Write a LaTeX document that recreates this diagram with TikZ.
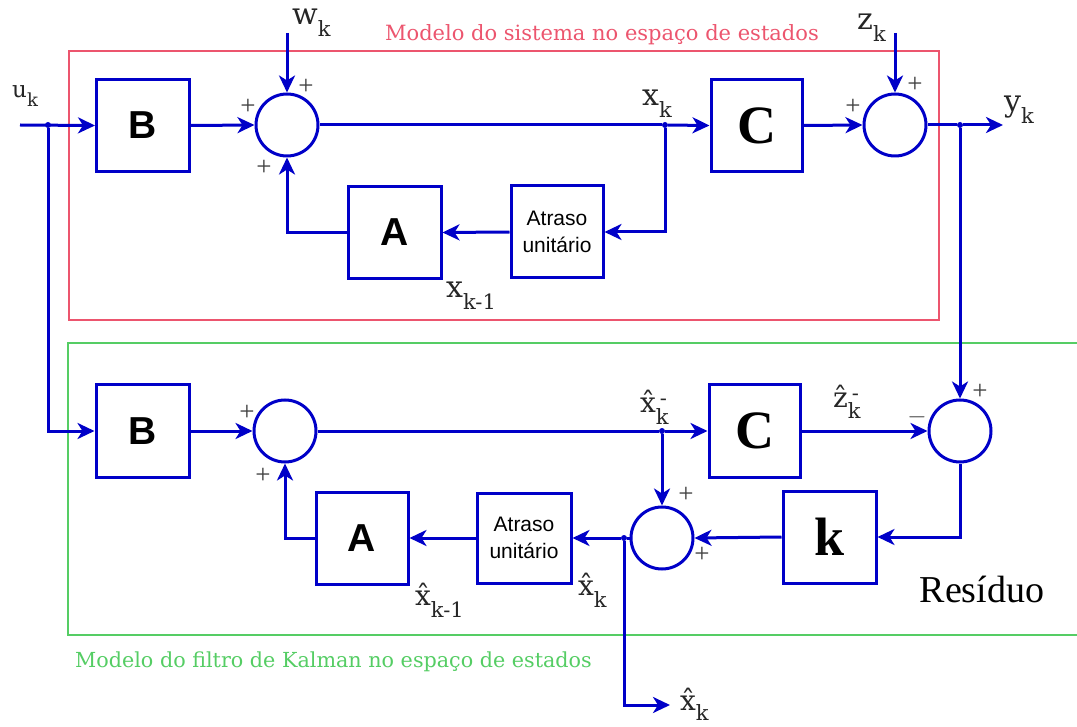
\documentclass[tikz,border=0pt]{standalone}
\usepackage{fontspec}
\setmainfont{Liberation Serif}
\newfontfamily\sfb{Liberation Sans}
\newfontfamily\vf{DejaVu Serif}
\usetikzlibrary{arrows.meta}
\definecolor{bl}{RGB}{0,0,200}
\definecolor{rd}{RGB}{236,85,110}
\definecolor{gr}{RGB}{85,205,100}
\newcommand\sbk[1]{\raisebox{-12pt}{\fontsize{21}{21}\selectfont #1}}
\newcommand\sbkm[1]{\raisebox{-12pt}{\fontsize{21}{21}\selectfont\rlap{\hspace{4pt}\raisebox{19pt}{-}}#1}}
\begin{document}
\begin{tikzpicture}[x=1pt,y=-1pt,
 blk/.style={draw=bl, line width=3pt, minimum width=93pt, minimum height=92pt, inner sep=0pt},
 sbox/.style={blk, font=\sfb\bfseries\fontsize{39}{39}\selectfont},
 rbox/.style={blk, font=\bfseries\fontsize{54}{54}\selectfont},
 dbox/.style={blk, font=\sfb\fontsize{21}{27}\selectfont, align=center},
 sumc/.style={draw=bl, line width=3pt, circle, minimum size=62pt, inner sep=0pt},
 sig/.style={draw=bl, line width=3pt, -{Stealth[length=17pt,width=16pt,inset=5pt]}},
 wire/.style={draw=bl, line width=3pt},
 jdot/.style={circle, fill=bl, inner sep=0pt, minimum size=6pt},
 pl/.style={font=\fontsize{27}{27}\selectfont, text=black!75, inner sep=0pt},
 var/.style={font=\vf\fontsize{30}{30}\selectfont, text=black!85, inner sep=0pt, anchor=base west},
 hvar/.style={var, font=\vf\fontsize{28}{28}\selectfont},
 ttl/.style={font=\vf\fontsize{21}{21}\selectfont, inner sep=0pt, anchor=base},
]
\useasboundingbox (0,0) rectangle (1077,727);
% frames
\draw[rd, line width=1.5pt] (69,51) rectangle (939,320);
\draw[gr, line width=1.5pt] (1080,343) -- (68,343) -- (68,635) -- (1080,635);
\node[ttl, text=rd] (t1) at (602,41) {Modelo do sistema no espaço de estados};
\node[ttl, text=gr, anchor=base west, font=\vf\fontsize{20.7}{21}\selectfont] (t2) at (75,667) {Modelo do filtro de Kalman no espaço de estados};

% upper system
\node[sbox] (B1) at (143,125.5) {B};
\node[sumc] (S1) at (287,125) {};
\node[rbox, minimum width=91pt] (C1) at (756.5,125.5) {C};
\node[sumc] (S2) at (895,125) {};
\node[sbox] (A1) at (394.5,232.5) {A};
\node[dbox, minimum width=92pt] (D1) at (557,232) {Atraso\\unitário};
\coordinate (uin) at (20,125);
\node[jdot] (j0) at (48,125) {};
\coordinate (win) at (287,33);
\coordinate (zin) at (895,33);
\node[jdot] (jx) at (665,125) {};
\node[jdot] (jy) at (960,125) {};
\coordinate (yout) at (1003,125);

\draw[sig] (uin) -- (B1.west);
\draw[sig] (B1.east) -- (S1.west);
\draw[sig] (win) -- (S1.north);
\draw[wire] (S1.east) -- (jx);
\draw[sig] (jx) -- (C1.west);
\draw[sig] (C1.east) -- (S2.west);
\draw[sig] (zin) -- (S2.north);
\draw[wire] (S2.east) -- (jy);
\draw[sig] (jy) -- (yout);
\draw[sig] (jx) |- (D1.east);
\draw[sig] (D1.west) -- (A1.east);
\draw[sig] (A1.west) -| (S1.south);

% lower filter
\node[sbox] (B2) at (142.5,431) {B};
\node[sumc] (S3) at (285,431) {};
\node[jdot] (jxm) at (662,431) {};
\node[rbox, minimum width=91pt] (C2) at (754.5,431) {C};
\node[sumc] (S4) at (960,431) {};
\node[rbox] (K) at (829.5,537) {k};
\node[sumc] (S5) at (662,538) {};
\node[jdot] (jxh) at (624,538) {};
\node[dbox, minimum width=94pt, minimum height=90pt] (D2) at (524,538) {Atraso\\unitário};
\node[sbox, minimum width=92pt] (A2) at (362,538) {A};
\coordinate (xout) at (670,705);

\draw[sig] (j0) |- (B2.west);
\draw[sig] (B2.east) -- (S3.west);
\draw[wire] (S3.east) -- (jxm);
\draw[sig] (jxm) -- (C2.west);
\draw[sig] (C2.east) -- (S4.west);
\draw[sig] (jy) -- (S4.north);
\draw[sig] (S4.south) |- (K.east);
\draw[sig] (K.west) -- (S5.east);
\draw[sig] (jxm) -- (S5.north);
\draw[wire] (S5.west) -- (jxh);
\draw[sig] (jxh) -- (D2.east);
\draw[sig] (D2.west) -- (A2.east);
\draw[sig] (A2.west) -| (S3.south);
\draw[sig] (jxh) |- (xout);

% signal labels
\node[var, font=\vf\fontsize{23}{23}\selectfont] (lu) at (12,98) {u\raisebox{-9pt}{\fontsize{18}{18}\selectfont k}};
\node[var] (lw) at (292,25) {w\sbk{k}};
\node[var] (lx) at (642,106) {x\sbk{k}};
\node[var] (lz) at (857,30) {z\sbk{k}};
\node[var] (ly) at (1004,112) {y\sbk{k}};
\node[var] (lx1) at (446,298) {x\sbk{k-1}};
\node[hvar] (lxm) at (640,413) {\^{x}\sbkm{k}};
\node[hvar] (lzm) at (833,407) {\^{z}\sbkm{k}};
\node[hvar] (lx1h) at (415,605) {\^{x}\sbk{k-1}};
\node[hvar] (lxh) at (578,595) {\^{x}\sbk{k}};
\node[hvar] (lxo) at (680,710) {\^{x}\raisebox{-10pt}{\fontsize{21}{21}\selectfont k}};
\node[font=\fontsize{38}{38}\selectfont, inner sep=0pt, anchor=base] (res) at (982,602) {Resíduo};

% signs
\node[pl] (p1) at (248,107) {+};
\node[pl] (p2) at (306,87) {+};
\node[pl] (p3) at (264,168) {+};
\node[pl] (p4) at (853,107) {+};
\node[pl] (p5) at (915,85) {+};
\node[pl] (p6) at (247,413) {+};
\node[pl] (p7) at (263,476) {+};
\node[pl] (p8) at (917,417) {$-$};
\node[pl] (p9) at (980,392) {+};
\node[pl] (p10) at (686,495) {+};
\node[pl] (p11) at (702,555) {+};
\end{tikzpicture}
\end{document}
